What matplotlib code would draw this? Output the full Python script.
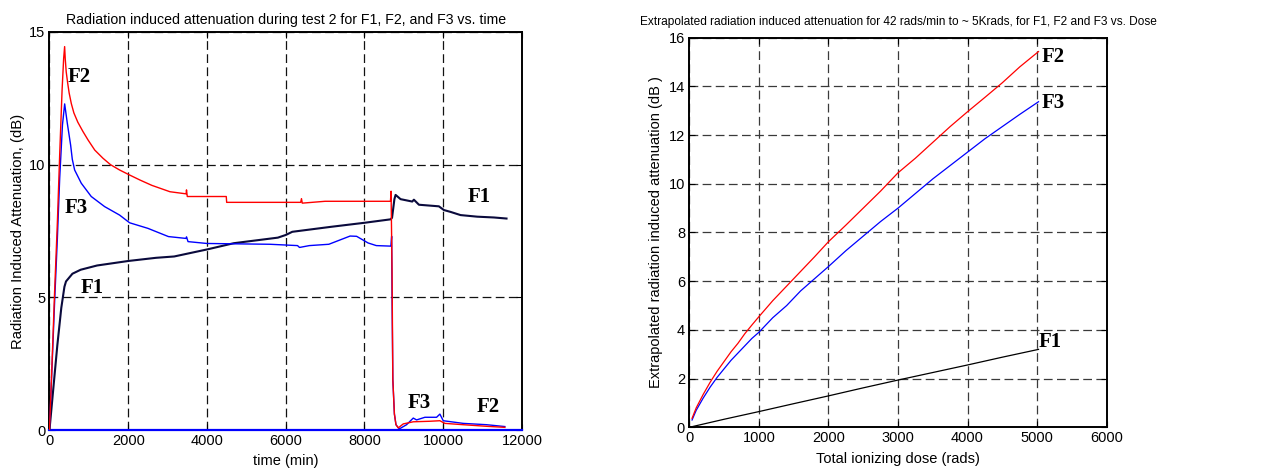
import matplotlib
matplotlib.use("Agg")
import matplotlib.pyplot as plt
from matplotlib import font_manager

# ---------------- data: left panel (test 2 vs time) ----------------
time_f1 = [0, 50, 100, 200, 300, 340, 380, 420, 583, 792, 1208, 2000, 2708, 3167, 4017,
           4680, 5800, 6000, 6166, 7162, 8000, 8664, 8700, 8760, 8790, 8917, 9213, 9255,
           9383, 9890, 10017, 10186, 10440, 10863, 11286, 11607]
att_f1 = [0, 0.8, 1.6, 3.2, 4.6, 5.0, 5.4, 5.6, 5.89, 6.04, 6.2, 6.37, 6.49, 6.54, 6.81,
          7.04, 7.25, 7.35, 7.47, 7.66, 7.81, 7.94, 8.0, 8.7, 8.86, 8.70, 8.61, 8.68,
          8.49, 8.43, 8.29, 8.22, 8.10, 8.04, 8.01, 7.97]

time_f2 = [0, 60, 130, 200, 260, 320, 360, 385, 400, 425, 460, 500, 555, 620, 720, 850, 980,
           1150, 1360, 1550, 1780, 2035, 2300, 2600, 3060, 3470, 3480, 3500, 4490, 4500,
           6380, 6400, 6420, 7000, 8660, 8675, 8700, 8720, 8760, 8800, 8858, 8985, 9239,
           9662, 9915, 10042, 10508, 11100, 11565]
att_f2 = [0, 2.3, 5.2, 7.8, 10.4, 12.8, 14.0, 14.45, 14.0, 13.5, 13.1, 12.7, 12.3, 11.95, 11.6,
          11.25, 10.93, 10.55, 10.24, 10.0, 9.8, 9.61, 9.42, 9.22, 8.98, 8.9, 9.05, 8.8,
          8.8, 8.58, 8.58, 8.72, 8.55, 8.62, 8.62, 9.0, 6.0, 1.9, 0.6, 0.2, 0.08, 0.23,
          0.31, 0.33, 0.35, 0.25, 0.2, 0.14, 0.1]

time_f3 = [0, 60, 130, 200, 260, 330, 386, 453, 537, 580, 639, 808, 1061, 1400, 1781,
           2035, 2500, 3021, 3470, 3480, 3519, 4000, 5600, 6300, 6350, 6600, 7095, 7635,
           7800, 8091, 8300, 8670, 8690, 8700, 8720, 8760, 8800, 8883, 9069, 9239, 9323,
           9535, 9831, 9915, 10000, 10508, 11100, 11565]
att_f3 = [0, 2.2, 4.8, 7.2, 9.5, 11.5, 12.29, 11.56, 10.74, 10.2, 9.8, 9.3, 8.8, 8.42,
          8.1, 7.81, 7.6, 7.29, 7.22, 7.28, 7.1, 7.03, 7.0, 6.95, 6.88, 6.95, 7.0, 7.31,
          7.3, 7.05, 6.95, 6.93, 7.3, 5.0, 1.9, 0.6, 0.2, 0.04, 0.2, 0.45, 0.38, 0.48,
          0.48, 0.6, 0.35, 0.25, 0.2, 0.13]

time_base = [0, 12000]
att_base = [0, 0]

# ---------------- data: right panel (extrapolated vs dose) ----------------
dose_f1 = [0, 500, 1000, 1500, 2000, 2500, 3000, 3500, 4000, 4500, 5020]
ext_f1 = [0, 0.33, 0.645, 0.97, 1.29, 1.62, 1.94, 2.25, 2.56, 2.88, 3.2]

dose_f2 = [40, 100, 200, 300, 400, 500, 600, 700, 800, 900, 1000, 1200, 1400, 1600, 1800,
           2000, 2250, 2500, 2750, 3000, 3250, 3500, 3750, 4000, 4250, 4500, 4750, 5020]
ext_f2 = [0.37, 0.8, 1.35, 1.85, 2.3, 2.7, 3.1, 3.45, 3.85, 4.2, 4.54, 5.2, 5.8, 6.4, 7.0,
          7.62, 8.3, 9.0, 9.7, 10.45, 11.05, 11.7, 12.35, 12.96, 13.55, 14.15, 14.8, 15.43]

dose_f3 = [40, 100, 200, 300, 400, 500, 600, 700, 800, 900, 1000, 1200, 1400, 1600, 1800,
           2000, 2250, 2500, 2750, 3000, 3250, 3500, 3750, 4000, 4250, 4500, 4750, 5020]
ext_f3 = [0.3, 0.7, 1.2, 1.65, 2.05, 2.4, 2.75, 3.05, 3.35, 3.65, 3.9, 4.5, 5.0, 5.6, 6.1,
          6.6, 7.25, 7.85, 8.45, 9.0, 9.6, 10.2, 10.75, 11.3, 11.85, 12.35, 12.85, 13.37]

left_xticks = [0, 2000, 4000, 6000, 8000, 10000, 12000]
left_xticklabels = ["0", "2000", "4000", "6000", "8000", "10000", "12000"]
left_yticks = [0, 5, 10, 15]
right_xticks = [0, 1000, 2000, 3000, 4000, 5000, 6000]
right_yticks = [0, 2, 4, 6, 8, 10, 12, 14, 16]

# ---------------- styling ----------------
names = {f.name for f in font_manager.fontManager.ttflist}
SANS = "Liberation Sans" if "Liberation Sans" in names else "DejaVu Sans"
SERIF = "Liberation Serif" if "Liberation Serif" in names else "DejaVu Serif"

plt.rcParams["font.family"] = SANS

fig = plt.figure(figsize=(12.75, 4.74), dpi=100)
axL = fig.add_axes([0.0388, 0.0928, 0.3706, 0.8397])
axR = fig.add_axes([0.5406, 0.0985, 0.3274, 0.8220])

RED = "#ff0000"
BLUE = "#0000ff"
NAVY = "#0a0a3c"

# left
axL.plot(time_base, att_base, color=BLUE, lw=1.6, zorder=3, clip_on=False)
axL.plot(time_f1, att_f1, color=NAVY, lw=1.5, zorder=4)
axL.plot(time_f3, att_f3, color=BLUE, lw=1.0, zorder=4)
axL.plot(time_f2, att_f2, color=RED, lw=1.0, zorder=5)
axL.set_xlim(0, 12000)
axL.set_ylim(0, 15)
axL.set_xticks(left_xticks)
axL.set_xticklabels(left_xticklabels)
axL.set_yticks(left_yticks)
axL.grid(True, color="#111111", linestyle=(0, (7, 3.5)), lw=0.9)
axL.set_title("Radiation induced attenuation during test 2 for F1, F2, and F3 vs. time",
              fontsize=10.2, pad=6)
axL.set_xlabel("time (min)", fontsize=10.5, labelpad=4)
axL.set_ylabel("Radiation Induced Attenuation, (dB)", fontsize=10.7, labelpad=3)
lab = dict(fontfamily=SERIF, fontweight="bold", fontsize=15, ha="center", va="center")
axL.text(743, 13.3, "F2", **lab)
axL.text(692, 8.35, "F3", **lab)
axL.text(1097, 5.35, "F1", **lab)
axL.text(10903, 8.8, "F1", **lab)
axL.text(9401, 1.0, "F3", **lab)
axL.text(11130, 0.85, "F2", **lab)

# right
axR.plot(dose_f1, ext_f1, color="#000000", lw=0.9, zorder=4)
axR.plot(dose_f3, ext_f3, color=BLUE, lw=0.9, zorder=4)
axR.plot(dose_f2, ext_f2, color=RED, lw=0.9, zorder=5)
axR.set_xlim(0, 6000)
axR.set_ylim(0, 16)
axR.set_xticks(right_xticks)
axR.set_yticks(right_yticks)
axR.grid(True, color="#3a3a3a", linestyle=(0, (7, 3.5)), lw=0.9)
axR.set_title("Extrapolated radiation induced attenuation for 42 rads/min to ~ 5Krads, for F1, F2 and F3 vs. Dose",
              fontsize=8.6, pad=9)
axR.set_xlabel("Total ionizing dose (rads)", fontsize=10.5, labelpad=5)
axR.set_ylabel("Extrapolated radiation induced attenuation (dB )", fontsize=10.5, labelpad=4)
axR.text(5233, 15.2, "F2", **lab)
axR.text(5233, 13.3, "F3", **lab)
axR.text(5190, 3.5, "F1", **lab)

for ax in (axL, axR):
    ax.tick_params(direction="in", top=True, right=True, length=4, width=0.8,
                   labelsize=10.5, pad=3, colors="black")
    for s in ax.spines.values():
        s.set_linewidth(1.4)
        s.set_color("black")
    ax.set_axisbelow(True)

fig.savefig("out.png", dpi=100)
